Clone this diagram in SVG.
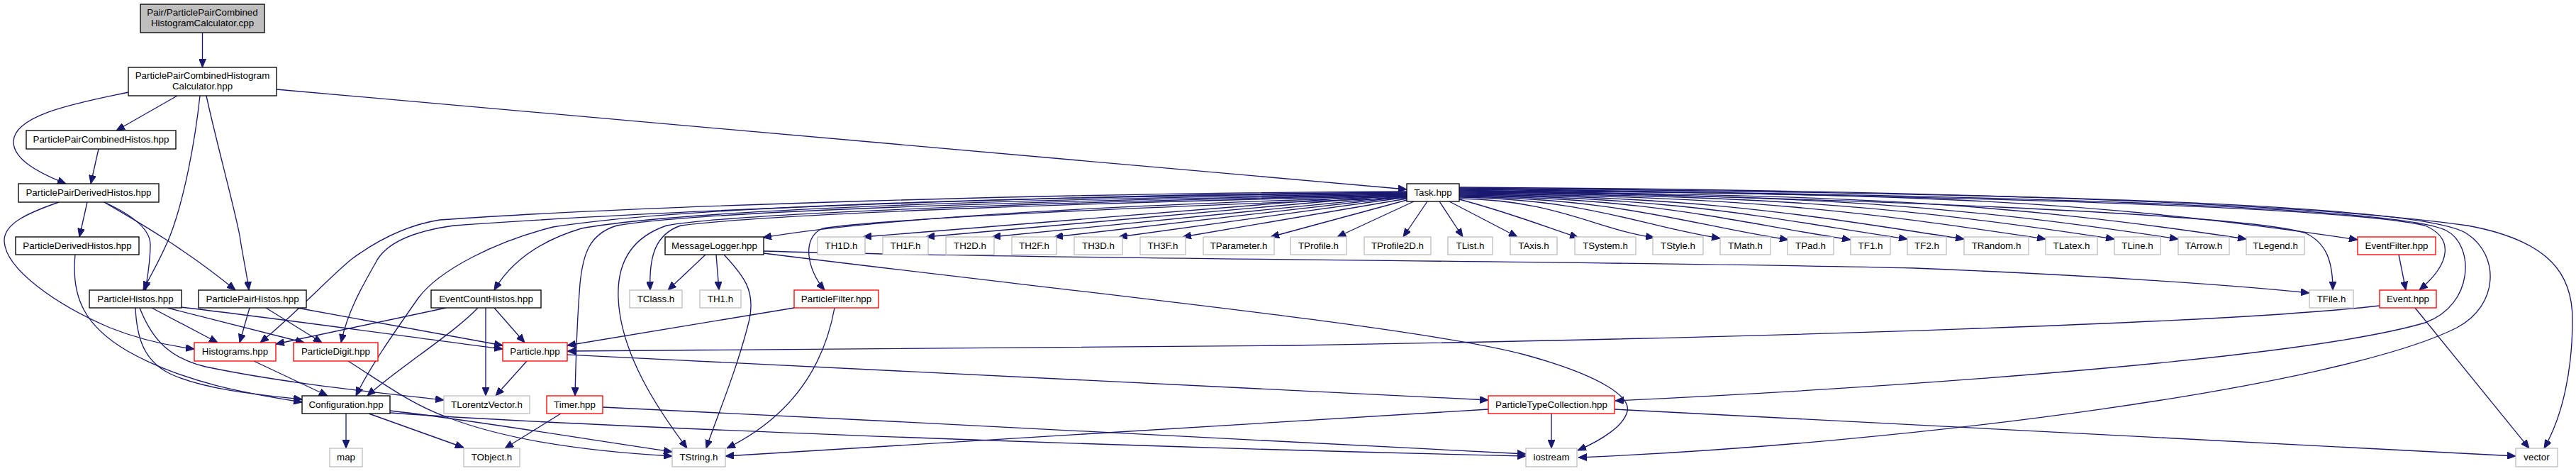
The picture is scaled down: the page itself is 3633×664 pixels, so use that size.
<svg xmlns="http://www.w3.org/2000/svg" width="3633" height="664" viewBox="0 0 3633 664">
<style>
.e{fill:none;stroke:#191970;stroke-width:1.33;marker-end:url(#a)}
rect{fill:#fff;stroke-width:1.33}
rect.b{stroke:#000}
rect.r{stroke:#ff0000}
rect.g{stroke:#bfbfbf}
rect.root{fill:#bfbfbf;stroke:#000}
text{font-family:"Liberation Sans",Arial,Helvetica,sans-serif;font-size:13.33px;text-anchor:middle;fill:#000}
</style>
<defs>
<marker id="a" viewBox="0 0 12 10" refX="12" refY="5" markerWidth="12" markerHeight="10" markerUnits="userSpaceOnUse" orient="auto">
<path d="M0,0 L12,5 L0,10 z" fill="#191970" stroke="#191970" stroke-width="1"/>
</marker>
</defs>
<rect x="0" y="0" width="3633" height="664" style="fill:#fff;stroke:none"/>
<g id="connectors">
<path class="e" d="M285.5,46 L285.5,95"/>
<path class="e" d="M250,135 L164,184"/>
<path class="e" d="M181,130 C120,143 19,160 19,200 C19,225 55,244 93,259"/>
<path class="e" d="M282,135 C275,200 260,280 240,332 C228,362 214,385 202,409"/>
<path class="e" d="M291,135 C305,200 330,290 338,332 C343,365 348,385 351,409"/>
<path class="e" d="M390,126 L1984,267"/>
<path class="e" d="M139,210 L128,259"/>
<path class="e" d="M123,285 L112,334"/>
<path class="e" d="M83,285 C40,300 5,315 6,340 C8,380 80,430 155,462 C195,478 235,487 274,492"/>
<path class="e" d="M147,285 C180,300 212,320 212,345 C212,370 208,390 205,409"/>
<path class="e" d="M147,285 C190,310 260,350 332,409"/>
<path class="e" d="M106,359 C100,420 120,460 180,495 C260,540 350,555 426,567"/>
<path class="e" d="M191,434 C193,480 205,510 240,527 C290,550 370,557 426,563"/>
<path class="e" d="M214,434 L307,483"/>
<path class="e" d="M236,434 L429,483"/>
<path class="e" d="M255,433 C400,450 600,478 709,492"/>
<path class="e" d="M419,434 L709,487"/>
<path class="e" d="M197,434 C215,480 240,505 290,517 C400,540 520,552 626,564"/>
<path class="e" d="M352,434 L338,483"/>
<path class="e" d="M375,434 L454,483"/>
<path class="e" d="M358,509 L462,558"/>
<path class="e" d="M491,509 C540,540 580,570 630,588 C700,615 800,635 948,643"/>
<path class="e" d="M488,583 L488,632"/>
<path class="e" d="M520,583 L654,631"/>
<path class="e" d="M550,579 C650,590 800,615 948,637"/>
<path class="e" d="M550,582 C800,600 1500,628 2152,643"/>
<path class="e" d="M791,583 L712,632"/>
<path class="e" d="M850,574 C1300,595 1900,628 2152,640"/>
<path class="e" d="M743,509 L699,558"/>
<path class="e" d="M800,500 C1300,523 1800,552 2099,564"/>
<path class="e" d="M697,434 L740,483"/>
<path class="e" d="M685,434 L685,558"/>
<path class="e" d="M674,434 C640,470 560,520 518,558"/>
<path class="e" d="M629,434 L389,485"/>
<path class="e" d="M995,359 L942,409"/>
<path class="e" d="M1010,359 L1014,409"/>
<path class="e" d="M1021,359 C1050,390 1065,410 1057,450 C1040,520 1010,590 996,632"/>
<path class="e" d="M1077,354 C1500,366 2300,368 2700,378 C2950,388 3150,402 3257,413"/>
<path class="e" d="M1077,357 C1500,410 2000,460 2150,500 C2260,530 2300,560 2295,580 C2290,600 2260,620 2225,635"/>
<path class="e" d="M1120,434 L800,487"/>
<path class="e" d="M1177,434 C1165,500 1130,580 1025,632"/>
<path class="e" d="M2099,577 L1023,643"/>
<path class="e" d="M2188,583 L2188,632"/>
<path class="e" d="M2277,577 L3548,643"/>
<path class="e" d="M3356,431 C3150,455 2500,476 1818,487 C1400,493 1000,495 800,495"/>
<path class="e" d="M3406,434 L3567,632"/>
<path class="e" d="M3383,359 L3393,409"/>
<path class="e" d="M1984,270 C1500,272 900,290 620,310 C570,318 530,340 495,366 C460,395 420,440 367,483"/>
<path class="e" d="M1984,271 C1500,274 950,296 640,318 C590,325 545,340 530,370 C510,405 490,440 481,483"/>
<path class="e" d="M1984,272 C1600,276 1000,285 780,320 C700,340 620,380 590,420 C555,470 520,520 502,558"/>
<path class="e" d="M1984,273 C1600,278 1000,290 820,322 C760,340 720,370 697,409"/>
<path class="e" d="M1984,274 C1600,280 1000,295 870,318 C830,330 822,360 818,400 C814,450 812,510 811,558"/>
<path class="e" d="M1984,275 C1600,282 1050,298 940,318 C890,335 870,370 872,420 C875,500 930,580 969,632"/>
<path class="e" d="M1984,276 C1600,284 1100,300 960,318 C925,330 915,360 917,409"/>
<path class="e" d="M1984,277 C1600,288 1250,305 1076,335"/>
<path class="e" d="M1984,279 C1600,292 1250,308 1160,322 C1130,335 1138,380 1163,409"/>
<path class="e" d="M1984,272 L1217,334"/>
<path class="e" d="M1984,274 L1306,334"/>
<path class="e" d="M1984,276 L1399,334"/>
<path class="e" d="M1984,277 L1487,334"/>
<path class="e" d="M1984,278 L1578,334"/>
<path class="e" d="M1984,280 L1668,334"/>
<path class="e" d="M1984,282 L1792,334"/>
<path class="e" d="M1994,284 L1886,334"/>
<path class="e" d="M2013,284 L1979,334"/>
<path class="e" d="M2030,284 L2063,334"/>
<path class="e" d="M2044,284 L2140,334"/>
<path class="e" d="M2058,281 C2130,300 2180,320 2226,335"/>
<path class="e" d="M2058,280 C2195,282 2250,323 2333,335"/>
<path class="e" d="M2058,278 C2242,281 2316,319 2426,336"/>
<path class="e" d="M2058,277 C2290,280 2383,317 2522,338"/>
<path class="e" d="M2058,276 C2334,279 2444,313 2610,338"/>
<path class="e" d="M2058,275 C2374,278 2500,309 2690,337"/>
<path class="e" d="M2058,274 C2414,277 2556,305 2770,337"/>
<path class="e" d="M2058,273 C2471,276 2637,300 2885,337"/>
<path class="e" d="M2058,272 C2520,275 2705,295 2982,337"/>
<path class="e" d="M2058,271 C2565,274 2768,291 3072,337"/>
<path class="e" d="M2058,270 C2613,273 2835,287 3168,337"/>
<path class="e" d="M2058,269 C2691,272 2945,281 3325,338"/>
<path class="e" d="M2058,268 C2600,280 3150,300 3250,328 C3282,342 3290,370 3290,409"/>
<path class="e" d="M2058,267 C2700,275 3300,290 3420,318 C3460,335 3458,370 3412,409"/>
<path class="e" d="M2058,266 C2800,275 3380,290 3450,325 C3490,345 3490,430 3420,455 C3250,505 2700,545 2278,565"/>
<path class="e" d="M2058,265 C2800,272 3420,285 3480,330 C3525,360 3525,430 3465,462 C3300,545 2700,625 2226,645"/>
<path class="e" d="M2058,264 C2700,268 3250,285 3480,318 C3600,340 3628,390 3628,450 C3628,520 3615,585 3588,632"/>
</g>
<g id="node-root"><rect class="root" x="198" y="6" width="175" height="40"/><text x="285.5" y="22">Pair/ParticlePairCombined</text><text x="285.5" y="37">HistogramCalculator.cpp</text></g>
<g id="node-calc"><rect class="b" x="181" y="95" width="209" height="40"/><text x="285.5" y="111">ParticlePairCombinedHistogram</text><text x="285.5" y="126">Calculator.hpp</text></g>
<g id="node-ppcombinedhistos"><rect class="b" x="37" y="184" width="211" height="26"/><text x="142.5" y="201">ParticlePairCombinedHistos.hpp</text></g>
<g id="node-ppderivedhistos"><rect class="b" x="26" y="259" width="198" height="26"/><text x="125" y="276">ParticlePairDerivedHistos.hpp</text></g>
<g id="node-pderivedhistos"><rect class="b" x="22" y="334" width="174" height="25"/><text x="109" y="351">ParticleDerivedHistos.hpp</text></g>
<g id="node-particlehistos"><rect class="b" x="126" y="409" width="130" height="25"/><text x="191" y="426">ParticleHistos.hpp</text></g>
<g id="node-particlepairhistos"><rect class="b" x="280" y="409" width="152" height="25"/><text x="356" y="426">ParticlePairHistos.hpp</text></g>
<g id="node-histograms"><rect class="r" x="274" y="483" width="115" height="26"/><text x="331.5" y="500">Histograms.hpp</text></g>
<g id="node-particledigit"><rect class="r" x="414" y="483" width="119" height="26"/><text x="473.5" y="500">ParticleDigit.hpp</text></g>
<g id="node-configuration"><rect class="b" x="426" y="558" width="124" height="25"/><text x="488" y="575">Configuration.hpp</text></g>
<g id="node-map"><rect class="g" x="465" y="632" width="46" height="26"/><text x="488" y="649">map</text></g>
<g id="node-messagelogger"><rect class="b" x="938" y="334" width="139" height="25"/><text x="1007.5" y="351">MessageLogger.hpp</text></g>
<g id="node-th1d"><rect class="g" x="1153" y="334" width="67" height="25"/><text x="1186.5" y="351">TH1D.h</text></g>
<g id="node-eventcounthistos"><rect class="b" x="608" y="409" width="155" height="25"/><text x="685.5" y="426">EventCountHistos.hpp</text></g>
<g id="node-tclass"><rect class="g" x="888" y="409" width="74" height="25"/><text x="925" y="426">TClass.h</text></g>
<g id="node-th1"><rect class="g" x="987" y="409" width="58" height="25"/><text x="1016" y="426">TH1.h</text></g>
<g id="node-particlefilter"><rect class="r" x="1120" y="409" width="119" height="25"/><text x="1179.5" y="426">ParticleFilter.hpp</text></g>
<g id="node-particle"><rect class="r" x="709" y="483" width="91" height="26"/><text x="754.5" y="500">Particle.hpp</text></g>
<g id="node-tlorentzvector"><rect class="g" x="626" y="558" width="121" height="25"/><text x="686.5" y="575">TLorentzVector.h</text></g>
<g id="node-timer"><rect class="r" x="771" y="558" width="79" height="25"/><text x="810.5" y="575">Timer.hpp</text></g>
<g id="node-tobject"><rect class="g" x="654" y="632" width="79" height="26"/><text x="693.5" y="649">TObject.h</text></g>
<g id="node-tstring"><rect class="g" x="948" y="632" width="75" height="26"/><text x="985.5" y="649">TString.h</text></g>
<g id="node-th1f"><rect class="g" x="1245" y="334" width="64" height="25"/><text x="1277" y="351">TH1F.h</text></g>
<g id="node-th2d"><rect class="g" x="1334" y="334" width="68" height="25"/><text x="1368" y="351">TH2D.h</text></g>
<g id="node-th2f"><rect class="g" x="1427" y="334" width="63" height="25"/><text x="1458.5" y="351">TH2F.h</text></g>
<g id="node-th3d"><rect class="g" x="1515" y="334" width="68" height="25"/><text x="1549" y="351">TH3D.h</text></g>
<g id="node-th3f"><rect class="g" x="1608" y="334" width="64" height="25"/><text x="1640" y="351">TH3F.h</text></g>
<g id="node-tparameter"><rect class="g" x="1697" y="334" width="100" height="25"/><text x="1747" y="351">TParameter.h</text></g>
<g id="node-task"><rect class="b" x="1984" y="259" width="74" height="25"/><text x="2021" y="276">Task.hpp</text></g>
<g id="node-tprofile"><rect class="g" x="1820" y="334" width="79" height="25"/><text x="1859.5" y="351">TProfile.h</text></g>
<g id="node-tprofile2d"><rect class="g" x="1924" y="334" width="94" height="25"/><text x="1971" y="351">TProfile2D.h</text></g>
<g id="node-tlist"><rect class="g" x="2042" y="334" width="63" height="25"/><text x="2073.5" y="351">TList.h</text></g>
<g id="node-taxis"><rect class="g" x="2130" y="334" width="66" height="25"/><text x="2163" y="351">TAxis.h</text></g>
<g id="node-tsystem"><rect class="g" x="2221" y="334" width="86" height="25"/><text x="2264" y="351">TSystem.h</text></g>
<g id="node-tstyle"><rect class="g" x="2331" y="334" width="71" height="25"/><text x="2366.5" y="351">TStyle.h</text></g>
<g id="node-tmath"><rect class="g" x="2426" y="334" width="71" height="25"/><text x="2461.5" y="351">TMath.h</text></g>
<g id="node-tpad"><rect class="g" x="2521" y="334" width="65" height="25"/><text x="2553.5" y="351">TPad.h</text></g>
<g id="node-tf1"><rect class="g" x="2610" y="334" width="56" height="25"/><text x="2638" y="351">TF1.h</text></g>
<g id="node-tf2"><rect class="g" x="2690" y="334" width="55" height="25"/><text x="2717.5" y="351">TF2.h</text></g>
<g id="node-trandom"><rect class="g" x="2770" y="334" width="91" height="25"/><text x="2815.5" y="351">TRandom.h</text></g>
<g id="node-tlatex"><rect class="g" x="2885" y="334" width="73" height="25"/><text x="2921.5" y="351">TLatex.h</text></g>
<g id="node-tline"><rect class="g" x="2982" y="334" width="65" height="25"/><text x="3014.5" y="351">TLine.h</text></g>
<g id="node-tarrow"><rect class="g" x="3072" y="334" width="72" height="25"/><text x="3108" y="351">TArrow.h</text></g>
<g id="node-tlegend"><rect class="g" x="3168" y="334" width="82" height="25"/><text x="3209" y="351">TLegend.h</text></g>
<g id="node-eventfilter"><rect class="r" x="3325" y="334" width="110" height="25"/><text x="3380" y="351">EventFilter.hpp</text></g>
<g id="node-tfile"><rect class="g" x="3257" y="409" width="62" height="25"/><text x="3288" y="426">TFile.h</text></g>
<g id="node-event"><rect class="r" x="3356" y="409" width="80" height="25"/><text x="3396" y="426">Event.hpp</text></g>
<g id="node-particletypecollection"><rect class="r" x="2099" y="558" width="178" height="25"/><text x="2188" y="575">ParticleTypeCollection.hpp</text></g>
<g id="node-iostream"><rect class="g" x="2152" y="632" width="72" height="26"/><text x="2188" y="649">iostream</text></g>
<g id="node-vector"><rect class="g" x="3548" y="632" width="59" height="26"/><text x="3577.5" y="649">vector</text></g>
</svg>
